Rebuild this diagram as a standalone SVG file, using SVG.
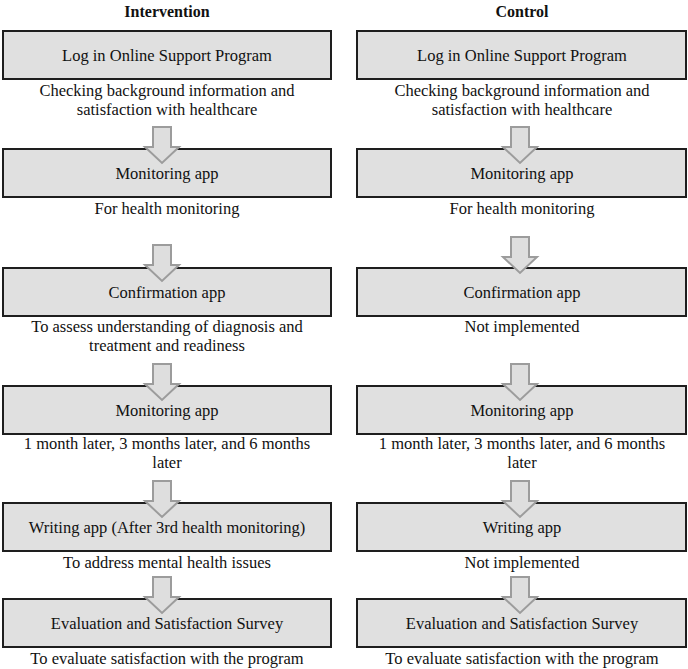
<svg xmlns="http://www.w3.org/2000/svg" width="688" height="669" viewBox="0 0 688 669">
<style>
text{font-family:'Liberation Serif','Times New Roman',Times,serif;font-size:16.5px;fill:#111;text-anchor:middle}
.h{font-weight:bold;font-size:16px}
.box{fill:#e0e0e0;stroke:#1e1e1e;stroke-width:2}
.arr{fill:#dedede;stroke:#9c9c9c;stroke-width:2;stroke-linejoin:miter}
</style>
<rect width="688" height="669" fill="#fff"/>
<g font-family="Liberation Serif, Times New Roman, serif">
<text class="h" x="167" y="17">Intervention</text>
<text class="h" x="522" y="17">Control</text>

<g id="i1"><rect class="box" x="3" y="31" width="328" height="48"/><text x="167" y="61">Log in Online Support Program</text></g>
<g id="c1"><rect class="box" x="357" y="31" width="329" height="48"/><text x="522" y="61">Log in Online Support Program</text></g>
<text x="167" y="96">Checking background information and</text>
<text x="167" y="115">satisfaction with healthcare</text>
<text x="522" y="96">Checking background information and</text>
<text x="522" y="115">satisfaction with healthcare</text>

<g id="i2"><rect class="box" x="3" y="149" width="328" height="48"/><text x="167" y="179">Monitoring app</text></g>
<g id="c2"><rect class="box" x="357" y="149" width="329" height="48"/><text x="522" y="179">Monitoring app</text></g>
<text x="167" y="214">For health monitoring</text>
<text x="522" y="214">For health monitoring</text>

<g id="i3"><rect class="box" x="3" y="268" width="328" height="48"/><text x="167" y="298">Confirmation app</text></g>
<g id="c3"><rect class="box" x="357" y="268" width="329" height="48"/><text x="522" y="298">Confirmation app</text></g>
<text x="167" y="332">To assess understanding of diagnosis and</text>
<text x="167" y="351">treatment and readiness</text>
<text x="522" y="332">Not implemented</text>

<g id="i4"><rect class="box" x="3" y="386" width="328" height="48"/><text x="167" y="416">Monitoring app</text></g>
<g id="c4"><rect class="box" x="357" y="386" width="329" height="48"/><text x="522" y="416">Monitoring app</text></g>
<text x="167" y="449">1 month later, 3 months later, and 6 months</text>
<text x="167" y="468">later</text>
<text x="522" y="449">1 month later, 3 months later, and 6 months</text>
<text x="522" y="468">later</text>

<g id="i5"><rect class="box" x="3" y="503" width="328" height="48"/><text x="167" y="533">Writing app (After 3rd health monitoring)</text></g>
<g id="c5"><rect class="box" x="357" y="503" width="329" height="48"/><text x="522" y="533">Writing app</text></g>
<text x="167" y="568">To address mental health issues</text>
<text x="522" y="568">Not implemented</text>

<g id="i6"><rect class="box" x="3" y="599" width="328" height="48"/><text x="167" y="629">Evaluation and Satisfaction Survey</text></g>
<g id="c6"><rect class="box" x="357" y="599" width="329" height="48"/><text x="522" y="629">Evaluation and Satisfaction Survey</text></g>
<text x="167" y="664">To evaluate satisfaction with the program</text>
<text x="522" y="664">To evaluate satisfaction with the program</text>
</g>

<g id="connectors">
<path class="arr" d="M153,127H171V147H179L162,163L145,147H153Z"/>
<path class="arr" d="M511,127H529V147H537L520,163L503,147H511Z"/>
<path class="arr" d="M153,245H171V265H179L162,281L145,265H153Z"/>
<path class="arr" d="M511,237H529V257H537L520,273L503,257H511Z"/>
<path class="arr" d="M153,364H171V384H179L162,400L145,384H153Z"/>
<path class="arr" d="M511,364H529V384H537L520,400L503,384H511Z"/>
<path class="arr" d="M153,481H171V501H179L162,517L145,501H153Z"/>
<path class="arr" d="M511,481H529V501H537L520,517L503,501H511Z"/>
<path class="arr" d="M153,577H171V597H179L162,613L145,597H153Z"/>
<path class="arr" d="M511,577H529V597H537L520,613L503,597H511Z"/>
</g>
</svg>
